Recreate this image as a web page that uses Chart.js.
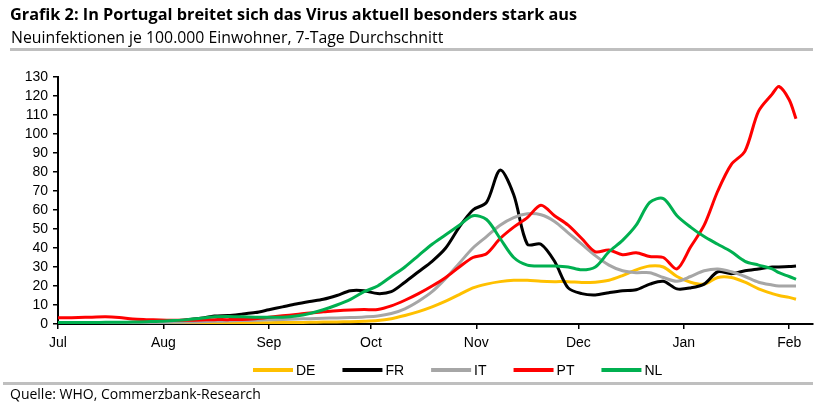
<!DOCTYPE html>
<html lang="de">
<head>
<meta charset="UTF-8">
<title>Grafik 2</title>
<style>
  body { margin: 0; width: 833px; height: 411px; overflow: hidden; background: #fff; font-family: "Open Sans", sans-serif; }
  #wrap { position: relative; width: 833px; height: 411px; }
  #myChart { position: absolute; left: 0; top: 0; }
  .title { position: absolute; left: 10px; top: 3px; font-size: 16.3px; font-weight: bold; color: #000; white-space: nowrap; }
  .sub { position: absolute; left: 11px; top: 26px; font-size: 15.8px; color: #000; white-space: nowrap; }
  .rule { position: absolute; height: 3px; background: #bfbfbf; }
  .src { position: absolute; left: 10px; top: 384px; font-size: 14px; color: #000; white-space: nowrap; }
</style>
</head>
<body>
<div id="wrap">
  <canvas id="myChart" width="833" height="411"></canvas>
  <div class="title">Grafik 2: In Portugal breitet sich das Virus aktuell besonders stark aus</div>
  <div class="sub">Neuinfektionen je 100.000 Einwohner, 7-Tage Durchschnitt</div>
  <div class="rule" style="left:10px; top:48px; width:803px;"></div>
  <div class="rule" style="left:3px; top:382px; width:810px;"></div>
  <div class="src">Quelle: WHO, Commerzbank-Research</div>
</div>
<script src="https://cdn.jsdelivr.net/npm/chart.js"></script>
<script>
// Tage seit 1. Juli 2020
const days = [0,2,6,10,14,18,22,26,30,34,38,42,46,50,54,58,62,66,70,74,78,82,86,90,94,98,102,106,110,114,118,122,126,130,134,138,142,146,150,154,158,162,166,170,174,178,182,186,190,194,198,202,206,210,212,215,217];

const de = [0.3,0.3,0.3,0.3,0.3,0.3,0.3,0.4,0.4,0.4,0.5,0.5,0.5,0.6,0.6,0.7,0.7,0.8,0.8,0.9,1.0,1.1,1.2,1.4,1.8,2.8,4.5,6.5,9,12,15.5,19,21,22.3,23,23,22.5,22.3,22.3,21.8,22,23,25.5,28.5,30.5,30,25,22,21,24.5,24.5,22,18.5,16,15,14,13];
const fr = [0.5,0.5,0.5,0.5,0.5,0.6,0.8,1.0,1.3,1.7,2.3,3.0,4.2,4.5,5.2,6.0,7.5,9.0,10.5,11.8,13,15,17.5,17.5,16,17,22,27.5,33,40,51,60,64,81,68,42,42,33,19,16,15.3,16.5,17.5,18,21,22.5,18.5,19,21,27.5,26.5,28,29,30,30,30.2,30.5];
const it = [0.4,0.4,0.4,0.4,0.5,0.5,0.6,0.7,0.8,0.9,1.0,1.2,1.4,1.6,1.8,2.0,2.2,2.4,2.6,2.8,3.0,3.2,3.4,3.7,4.2,5.5,8,12,17,24,32,40,46,52,56,58,57.5,54,48,42,36,31,28,27,27,24.5,22.5,25,28,29,27.5,25,22,20.5,20,20,20];
const pt = [3.3,3.3,3.4,3.6,3.8,3.4,2.6,2.3,2.1,2.0,2.0,2.1,2.3,2.3,2.4,2.8,3.5,4.3,5.0,5.8,6.4,7.0,7.4,7.6,7.6,9.5,12.5,16,20,24.5,30,35,37,45,51,56,62.5,57,52,45,38,39,36.5,37.5,35.5,35,29,40.5,52,70,84,91,112,121,125,118,108];
const nl = [0.8,0.8,0.8,0.8,0.9,0.9,1.0,1.2,1.4,1.8,2.3,3.0,3.8,4.0,3.8,3.6,3.5,3.6,4.2,5.5,7.5,10,13,17,20,25,30,36,42,47,52,57,55,45,35,31,30.5,30.5,30,28.5,30,38,44,52,64,66,57,51,46,42,38,33,31,29,27,25,23.5];

const monthTicks = [0,31,62,92,123,153,184,215];
const monthLabels = ['Jul','Aug','Sep','Oct','Nov','Dec','Jan','Feb'];

function pts(vals) {
    return days.map((d, i) => ({x: d, y: vals[i]}));
}

// Legende unten, wie im Original, mit Linien
const lineLegend = {
    id: 'lineLegend',
    afterDraw(chart) {
        const ctx = chart.ctx;
        let x = 253;
        const y = 370;
        ctx.save();
        ctx.font = '14px "Liberation Sans", Arial, sans-serif';
        ctx.textBaseline = 'middle';
        ctx.textAlign = 'left';
        chart.data.datasets.forEach(ds => {
            ctx.strokeStyle = ds.borderColor;
            ctx.lineWidth = 4;
            ctx.beginPath();
            ctx.moveTo(x, y);
            ctx.lineTo(x + 40, y);
            ctx.stroke();
            ctx.fillStyle = '#000';
            ctx.fillText(ds.label, x + 43, y + 1);
            x += 43 + ctx.measureText(ds.label).width + 27;
        });
        ctx.restore();
    }
};

const ctx = document.getElementById('myChart');

new Chart(ctx, {
    type: 'line',
    data: {
        datasets: [
            {label: 'DE', data: pts(de), borderColor: '#FFC000', order: 5},
            {label: 'FR', data: pts(fr), borderColor: '#000000', order: 4},
            {label: 'IT', data: pts(it), borderColor: '#A6A6A6', order: 3},
            {label: 'PT', data: pts(pt), borderColor: '#FF0000', order: 2},
            {label: 'NL', data: pts(nl), borderColor: '#00B050', order: 1}
        ]
    },
    options: {
        responsive: false,
        animation: false,
        layout: {
            padding: {top: 77, right: 20, bottom: 57, left: 0}
        },
        elements: {
            line: {borderWidth: 3, tension: 0.3},
            point: {radius: 0}
        },
        scales: {
            x: {
                type: 'linear',
                min: 0,
                max: 222,
                afterBuildTicks: (scale) => {
                    scale.ticks = monthTicks.map(v => ({value: v}));
                },
                afterFit: (scale) => { scale.height = 30; },
                ticks: {
                    autoSkip: false,
                    maxRotation: 0,
                    padding: 6,
                    color: '#000',
                    font: {family: '"Liberation Sans", Arial, sans-serif', size: 14},
                    callback: (v) => monthLabels[monthTicks.indexOf(v)]
                },
                grid: {drawOnChartArea: false, tickLength: 5, color: '#000', lineWidth: 1.5},
                border: {color: '#000', width: 2}
            },
            y: {
                min: 0,
                max: 130,
                afterFit: (scale) => { scale.width = 58; },
                ticks: {
                    stepSize: 10,
                    autoSkip: false,
                    padding: 5,
                    color: '#000',
                    font: {family: '"Liberation Sans", Arial, sans-serif', size: 14}
                },
                grid: {drawOnChartArea: false, tickLength: 5, color: '#000', lineWidth: 1.5},
                border: {color: '#000', width: 2}
            }
        },
        plugins: {
            legend: {display: false},
            tooltip: {enabled: false}
        }
    },
    plugins: [lineLegend]
});
</script>
</body>
</html>
